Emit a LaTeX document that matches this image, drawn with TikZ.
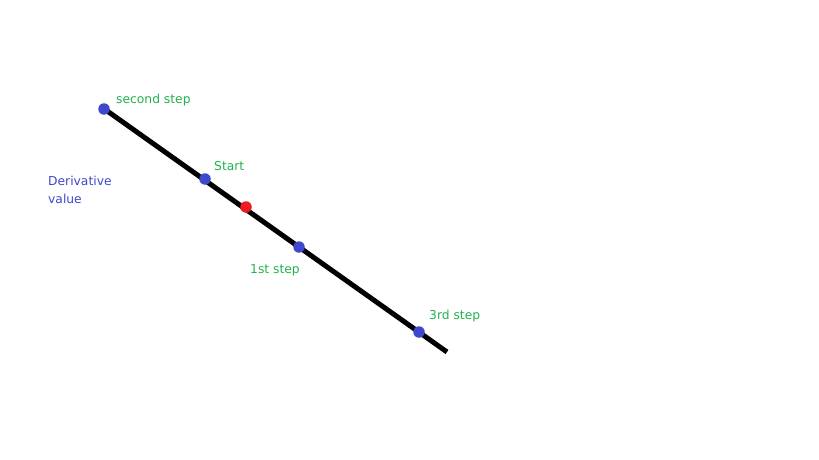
\documentclass[tikz,border=0pt]{standalone}
\usepackage{fontspec}
\setmainfont{DejaVu Sans}
\usetikzlibrary{positioning}
\definecolor{paintgreen}{RGB}{34, 177, 76}
\definecolor{paintblue}{RGB}{63, 72, 204}
\definecolor{paintred}{RGB}{237, 28, 36}

\begin{document}
\begin{tikzpicture}[x=1pt, y=-1pt,
        dot/.style={circle, fill=paintblue, inner sep=0pt, minimum size=11.5pt},
        startdot/.style={dot, fill=paintred},
        steplabel/.style={anchor=base west, inner sep=0pt, text=paintgreen, font=\fontsize{12.3}{14}\selectfont},
        sidelabel/.style={anchor=north west, inner sep=0pt, align=left, text=paintblue, font=\fontsize{12.3}{17.5}\selectfont},
        slope/.style={line width=5pt}
    ]
        \useasboundingbox (0,0) rectangle (819,460);

        % Line ends
        \coordinate (top) at (103,108);
        \coordinate (bottom) at (447,352);
        \draw[slope] (top) -- (bottom);

        % Points on the line
        \node[dot] (second) at (104,109) {};
        \node[dot] (start) at (205,179) {};
        \node[startdot] (mid) at (246,207) {};
        \node[dot] (first) at (299,247) {};
        \node[dot] (third) at (419,332) {};

        % Labels
        \node[steplabel] (secondlbl) at (116,103) {second step};
        \node[steplabel] (startlbl) at (214,170) {Start};
        \node[steplabel] (firstlbl) at (250,273) {1st step};
        \node[steplabel] (thirdlbl) at (429,319) {3rd step};
        \node[sidelabel] (deriv) at (48,176) {Derivative\\value};

    \end{tikzpicture}
\end{document}
